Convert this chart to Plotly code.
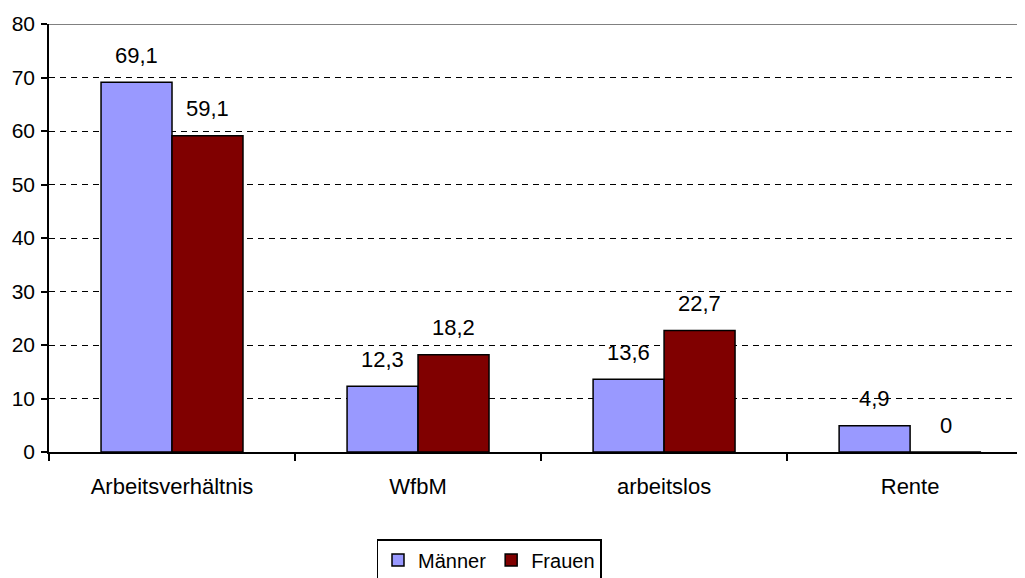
import plotly.graph_objects as go

categories = ["Arbeitsverhältnis", "WfbM", "arbeitslos", "Rente"]
maenner = [69.1, 12.3, 13.6, 4.9]
frauen = [59.1, 18.2, 22.7, 0]
y_ticks = [0, 10, 20, 30, 40, 50, 60, 70, 80]

FONT = "Liberation Sans, Arial, sans-serif"

def fmt(v):
    return f"{v:g}".replace(".", ",")

fig = go.Figure()
fig.add_trace(go.Bar(name="Männer", x=categories, y=maenner,
                     marker=dict(color="#9999FF", line=dict(color="black", width=1.5))))
fig.add_trace(go.Bar(name="Frauen", x=categories, y=frauen,
                     marker=dict(color="#800000", line=dict(color="black", width=1.5))))

# page has an 8px body margin; figure sits at (8, 8)
W, H = 1017, 570
ml, mr, mt, mb = 41, 0, 16, 126
xr = [-0.5, 3.467]
px_per_cat = (W - ml - mr) / (xr[1] - xr[0])
bargap = 0.423
half_bar = px_per_cat * (1 - bargap) / 4
plot_h = H - mt - mb

annotations = []
for i, c in enumerate(categories):
    for vals, sgn in ((maenner, -1), (frauen, 1)):
        annotations.append(dict(x=c, y=vals[i], xref="x", yref="y", text=fmt(vals[i]),
                                showarrow=False, xshift=sgn * half_bar, yshift=27,
                                yanchor="middle", xanchor="center",
                                font=dict(family=FONT, size=22, color="black")))

fig.update_layout(
    width=W, height=H,
    margin=dict(l=ml, r=mr, t=mt, b=mb, pad=0, autoexpand=False),
    plot_bgcolor="white", paper_bgcolor="white",
    barmode="group", bargap=bargap, bargroupgap=0,
    font=dict(family=FONT, size=20, color="black"),
    xaxis=dict(range=xr, showline=True, linecolor="black", linewidth=1.5,
               ticks="outside", tickson="boundaries", ticklen=7, tickcolor="black",
               tickwidth=1.5, showgrid=False, tickfont=dict(size=22),
               ticklabelstandoff=14, automargin=False),
    yaxis=dict(range=[0, 80], tickvals=y_ticks, showline=True, linecolor="black",
               linewidth=1.5, ticks="outside", ticklen=6, tickcolor="black", tickwidth=1.5,
               showgrid=True, gridcolor="black", gridwidth=1, griddash="6px,5px",
               zeroline=False, tickfont=dict(size=21), ticklabelstandoff=2,
               automargin=False),
    legend=dict(orientation="h", x=(481 - ml) / (W - ml - mr), xanchor="center",
                y=-(87 / plot_h), yanchor="top", bordercolor="black", borderwidth=1.5,
                font=dict(size=20), itemwidth=30, tracegroupgap=0),
    showlegend=True,
    annotations=annotations,
    shapes=[dict(type="line", xref="paper", yref="y", x0=0, x1=1, y0=80, y1=80,
                 line=dict(color="#808080", width=2), layer="above")],
)

fig.write_html("out.html")
